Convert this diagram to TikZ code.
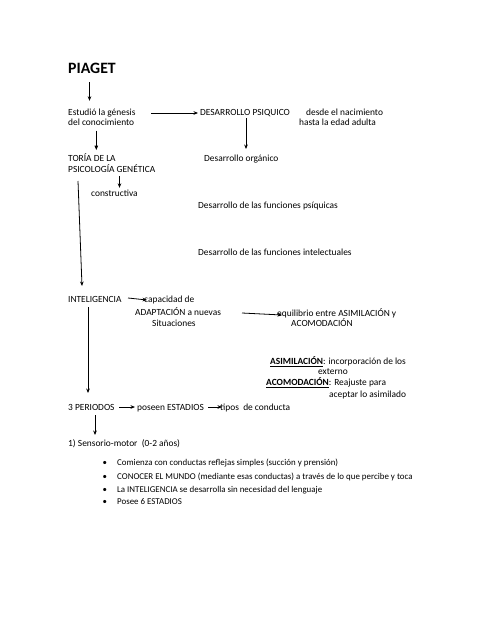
\documentclass[tikz,border=0pt]{standalone}
\usepackage{fontspec}
\setmainfont{Carlito}
\usetikzlibrary{arrows.meta}
\begin{document}
\begin{tikzpicture}[x=1pt,y=-1pt,
  txt/.style={inner sep=0pt, anchor=base west, font=\fontsize{9.4}{11}\selectfont},
  sml/.style={inner sep=0pt, anchor=base west, font=\fontsize{8.9}{10}\selectfont},
  arr/.style={-{Stealth[length=4.5pt,width=3.6pt]}, line width=0.8pt}]
\useasboundingbox (0,0) rectangle (494,640);
\fill[white] (0,0) rectangle (494,640);
% texts
\node[inner sep=0pt, anchor=base west, font=\bfseries\fontsize{15.8}{18}\selectfont] (piaget) at (68,73) {PIAGET};
\node[txt] (estudio) at (68,115.5) {Estudió la génesis};
\node[txt] (delcon) at (68,125.5) {del conocimiento};
\node[txt] (desarrollo) at (200,115.5) {DESARROLLO PSIQUICO};
\node[txt] (desde) at (306,115.5) {desde el nacimiento};
\node[txt] (hasta) at (299,125.5) {hasta la edad adulta};
\node[txt] (toria) at (68,161.5) {TORÍA DE LA};
\node[txt] (psico) at (68,172.5) {PSICOLOGÍA GENÉTICA};
\node[txt] (organico) at (204,161.5) {Desarrollo orgánico};
\node[txt] (constr) at (91,196.5) {constructiva};
\node[txt] (psiquicas) at (198,208.5) {Desarrollo de las funciones psíquicas};
\node[txt] (intelect) at (198,255.5) {Desarrollo de las funciones intelectuales};
\node[txt] (intel) at (68,302.5) {INTELIGENCIA};
\node[txt] (capac) at (144,302.5) {capacidad de};
\node[txt] (adapt) at (135,315.5) {ADAPTACIÓN a nuevas};
\node[txt] (situ) at (152,326.5) {Situaciones};
\node[txt] (equil) at (277,316.5) {equilibrio entre ASIMILACIÓN y};
\node[txt] (acomodA) at (291,326.5) {ACOMODACIÓN};
\node[txt] (asim) at (270,364.5) {\textbf{\underline{ASIMILACIÓN}}: incorporación de los};
\node[txt] (externo) at (318,374.5) {externo};
\node[txt] (acomodB) at (266,385.5) {\textbf{\underline{ACOMODACIÓN}}: Reajuste para};
\node[txt] (aceptar) at (329,397.5) {aceptar lo asimilado};
\node[txt] (periodos) at (68,410.5) {3 PERIODOS};
\node[txt] (poseen) at (137,410.5) {poseen ESTADIOS};
\node[txt] (tipos) at (220,410.5) {tipos\ \ de conducta};
\node[txt] (sensorio) at (68,446.5) {1) Sensorio-motor\ \ (0-2 años)};
\node[sml] (b1) at (117,465) {Comienza con conductas reflejas simples (succión y prensión)};
\node[sml] (b2) at (117,479) {CONOCER EL MUNDO (mediante esas conductas) a través de lo que percibe y toca};
\node[sml] (b3) at (117,492) {La INTELIGENCIA se desarrolla sin necesidad del lenguaje};
\node[sml] (b4) at (117,504) {Posee 6 ESTADIOS};
\node[sml] (d1b) at (102.5,465) {•};
\node[sml] (d2b) at (102.5,479) {•};
\node[sml] (d3b) at (102.5,492) {•};
\node[sml] (d4b) at (102.5,504) {•};
% connectors
\coordinate (pA) at ([yshift=-9pt]piaget.base -| 89.5,0);
\coordinate (pB) at ([yshift=8pt]estudio.north -| 89.5,0);
\coordinate (cA) at (96.3,130.5);
\coordinate (cB) at (96.3,150);
\coordinate (cM) at (96.3,145.5);
\coordinate (kA) at ([yshift=-3pt]psico.south -| 119.5,0);
\coordinate (kB) at ([yshift=2pt]constr.north -| 119.5,0);
\coordinate (eA) at (151,113);   \coordinate (eB) at (198,113);
\coordinate (dA) at (246,118);   \coordinate (dB) at (246,149);
\coordinate (lA) at (78,181);    \coordinate (lB) at (82,286);
\coordinate (iA) at (128,298);   \coordinate (iB) at (147,300);
\coordinate (qA) at (242,313);   \coordinate (qB) at (282,315);
\coordinate (gA) at (88,307);    \coordinate (gB) at (88,393);
\coordinate (rA) at (119,407);   \coordinate (rB) at (135,407);
\coordinate (sA) at (208,407);   \coordinate (sB) at (222,407);
\coordinate (tA) at (95,415);    \coordinate (tB) at (95,435);
\draw[arr] (pA) -- (pB);
\draw[line width=0.85pt] (cA) -- (cM);
\fill (cB) -- ([xshift=-1.9pt]cM) -- ([xshift=1.9pt]cM) -- cycle;
\draw[arr] (kA) -- (kB);
\draw[arr] (eA) -- (eB);
\draw[arr] (dA) -- (dB);
\draw[arr] (lA) -- (lB);
\draw[arr] (iA) -- (iB);
\draw[arr] (qA) -- (qB);
\draw[arr] (gA) -- (gB);
\draw[arr] (rA) -- (rB);
\draw[arr] (sA) -- (sB);
\draw[arr] (tA) -- (tB);
\end{tikzpicture}
\end{document}
